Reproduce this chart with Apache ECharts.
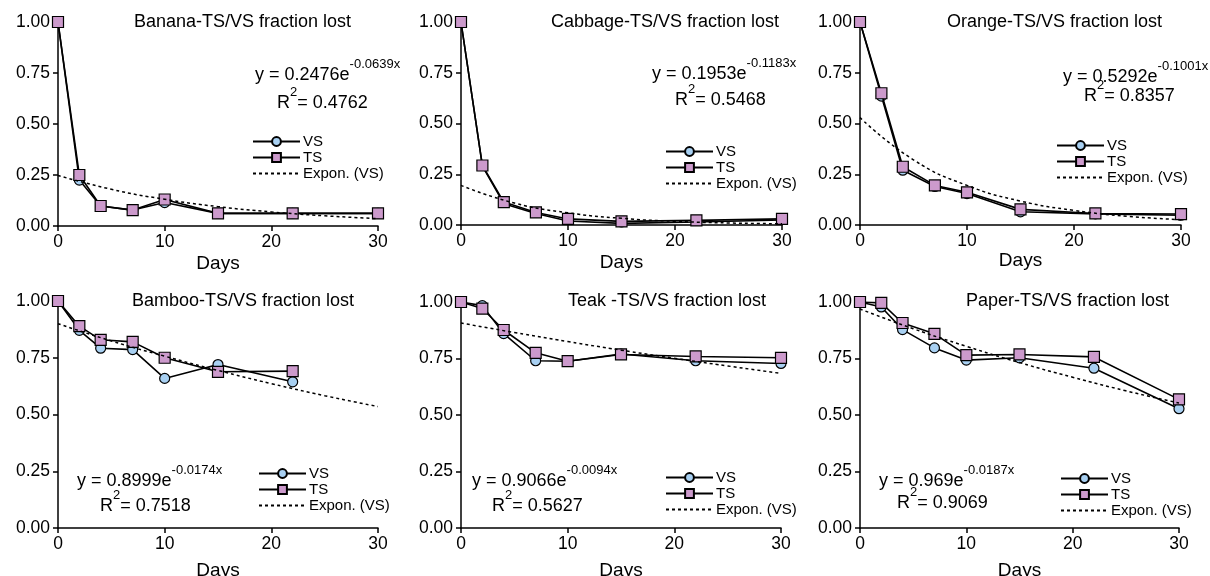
<!DOCTYPE html>
<html>
<head>
<meta charset="utf-8">
<script src="https://cdn.jsdelivr.net/npm/echarts@6/dist/echarts.min.js"></script>
<style>
  html, body { margin: 0; padding: 0; background: #fff; }
  #chart { width: 1210px; height: 576px; }
</style>
</head>
<body>
<div id="chart"></div>
<script>
// sampling days
const days = [0, 2, 4, 7, 10, 15, 22, 30];
const bambooDays = [0, 2, 4, 7, 10, 15, 22];
const trendDays = [0, 5, 10, 15, 20, 25, 30];
const yTicks = [0, 0.25, 0.5, 0.75, 1];

// fraction lost
const bananaVS = [1.0, 0.225, 0.098, 0.078, 0.115, 0.062, 0.062, 0.062];
const bananaTS = [1.0, 0.25, 0.098, 0.078, 0.13, 0.062, 0.062, 0.062];
const bananaTrend = [0.248, 0.18, 0.131, 0.095, 0.069, 0.05, 0.036];

const cabbageVS = [1.0, 0.29, 0.105, 0.057, 0.02, 0.008, 0.015, 0.025];
const cabbageTS = [1.0, 0.293, 0.113, 0.062, 0.03, 0.018, 0.023, 0.03];
const cabbageTrend = [0.195, 0.108, 0.06, 0.033, 0.018, 0.01, 0.006];

const orangeVS = [1.0, 0.635, 0.27, 0.19, 0.155, 0.065, 0.055, 0.048];
const orangeTS = [1.0, 0.649, 0.287, 0.195, 0.161, 0.077, 0.057, 0.054];
const orangeTrend = [0.529, 0.321, 0.195, 0.118, 0.072, 0.043, 0.026];

const bambooVS = [1.0, 0.871, 0.792, 0.786, 0.659, 0.72, 0.644];
const bambooTS = [1.0, 0.889, 0.829, 0.82, 0.75, 0.688, 0.691];
const bambooTrend = [0.9, 0.824, 0.757, 0.694, 0.636, 0.583, 0.535];

const teakVS = [1.0, 0.984, 0.86, 0.74, 0.738, 0.77, 0.74, 0.728];
const teakTS = [1.0, 0.971, 0.876, 0.775, 0.738, 0.768, 0.759, 0.753];
const teakTrend = [0.907, 0.865, 0.825, 0.787, 0.751, 0.717, 0.684];

const paperVS = [1.0, 0.978, 0.878, 0.797, 0.743, 0.753, 0.707, 0.528];
const paperTS = [1.0, 0.996, 0.907, 0.859, 0.765, 0.768, 0.757, 0.569];
const paperTrend = [0.969, 0.882, 0.804, 0.732, 0.667, 0.607, 0.553];

const titles = [
  'Banana-TS/VS fraction lost',
  'Cabbage-TS/VS fraction lost',
  'Orange-TS/VS fraction lost',
  'Bamboo-TS/VS fraction lost',
  'Teak -TS/VS fraction lost',
  'Paper-TS/VS fraction lost',
];
const eqBase = ['y = 0.2476e', 'y = 0.1953e', 'y = 0.5292e', 'y = 0.8999e', 'y = 0.9066e', 'y = 0.969e'];
const eqExp = ['-0.0639x', '-0.1183x', '-0.1001x', '-0.0174x', '-0.0094x', '-0.0187x'];
const r2Values = ['0.4762', '0.5468', '0.8357', '0.7518', '0.5627', '0.9069'];

const panels = [
  { x: days, vs: bananaVS, ts: bananaTS, trend: bananaTrend, vsSize: 10 },
  { x: days, vs: cabbageVS, ts: cabbageTS, trend: cabbageTrend, vsSize: 7 },
  { x: days, vs: orangeVS, ts: orangeTS, trend: orangeTrend, vsSize: 10 },
  { x: bambooDays, vs: bambooVS, ts: bambooTS, trend: bambooTrend, vsSize: 10 },
  { x: days, vs: teakVS, ts: teakTS, trend: teakTrend, vsSize: 10 },
  { x: days, vs: paperVS, ts: paperTS, trend: paperTrend, vsSize: 10 },
];

// layout of each small panel
const boxes = [
  { left: 58, top: 22, width: 320, height: 204, gap: 28, lg: [252, 134], eq: [255, 58], r2: [277, 86], tl: [134, 13] },
  { left: 461, top: 22, width: 321, height: 203, gap: 28, lg: [665, 144], eq: [652, 57], r2: [675, 83], tl: [551, 13] },
  { left: 860, top: 22, width: 321, height: 203, gap: 25, lg: [1056, 138], eq: [1063, 60], r2: [1084, 79], tl: [947, 13] },
  { left: 58, top: 301, width: 320, height: 227, gap: 33, lg: [258, 466], eq: [77, 464], r2: [100, 489], tl: [132, 292] },
  { left: 461, top: 302, width: 320, height: 226, gap: 33, lg: [665, 470], eq: [472, 464], r2: [492, 489], tl: [568, 292] },
  { left: 860, top: 302, width: 319, height: 226, gap: 33, lg: [1060, 471], eq: [879, 464], r2: [897, 486], tl: [966, 292] },
];

const FONT = 'Liberation Sans, Arial, sans-serif';
const VS_COLOR = '#a8d0f2';
const TS_COLOR = '#cc9acc';

const zip = (xs, ys) => ys.map((v, i) => [xs[i], v]);

const richEq = {
  m: { fontFamily: FONT, fontSize: 18, lineHeight: 26, fill: '#000', verticalAlign: 'bottom' },
  s: { fontFamily: FONT, fontSize: 13, lineHeight: 14, fill: '#000', verticalAlign: 'top' },
};

const option = {
  animation: false,
  backgroundColor: '#fff',
  title: [],
  legend: [],
  grid: [],
  xAxis: [],
  yAxis: [],
  series: [],
  graphic: [],
};

panels.forEach((p, i) => {
  const b = boxes[i];
  option.grid.push({
    left: b.left, top: b.top, width: b.width, height: b.height,
    containLabel: false, outerBoundsMode: 'none',
  });

  option.xAxis.push({
    type: 'value',
    gridIndex: i,
    min: 0,
    max: 30,
    interval: 10,
    name: 'Days',
    nameLocation: 'middle',
    nameGap: b.gap,
    nameTextStyle: { fontFamily: FONT, fontSize: 19, color: '#000' },
    axisLine: { onZero: false, lineStyle: { color: '#000', width: 1.5 } },
    axisTick: { show: true, inside: false, length: 5, lineStyle: { color: '#000', width: 1.5 } },
    axisLabel: { fontFamily: FONT, fontSize: 17.5, color: '#000', margin: 7 },
    splitLine: { show: false },
  });

  option.yAxis.push({
    type: 'value',
    gridIndex: i,
    min: yTicks[0],
    max: yTicks[yTicks.length - 1],
    interval: 0.25,
    axisLine: { show: true, lineStyle: { color: '#000', width: 1.5 } },
    axisTick: { show: true, inside: false, length: 5, lineStyle: { color: '#000', width: 1.5 } },
    axisLabel: {
      fontFamily: FONT, fontSize: 17.5, color: '#000', margin: 8,
      formatter: (v) => v.toFixed(2),
    },
    splitLine: { show: false },
  });

  option.series.push({
    name: 'VS',
    type: 'line',
    xAxisIndex: i,
    yAxisIndex: i,
    data: zip(p.x, p.vs),
    symbol: 'circle',
    symbolSize: p.vsSize,
    lineStyle: { color: '#000', width: 1.6 },
    itemStyle: { color: VS_COLOR, borderColor: '#000', borderWidth: 1.2 },
    z: 3,
  });
  option.series.push({
    name: 'TS',
    type: 'line',
    xAxisIndex: i,
    yAxisIndex: i,
    data: zip(p.x, p.ts),
    symbol: 'rect',
    symbolSize: 11,
    lineStyle: { color: '#000', width: 1.6 },
    itemStyle: { color: TS_COLOR, borderColor: '#000', borderWidth: 1.2 },
    z: 4,
  });
  option.series.push({
    name: 'Expon. (VS)',
    type: 'line',
    xAxisIndex: i,
    yAxisIndex: i,
    data: zip(trendDays, p.trend),
    smooth: true,
    symbol: 'none',
    lineStyle: { color: '#000', width: 1.5, type: [3, 3] },
    itemStyle: { color: '#000' },
    z: 5,
  });

  option.title.push({
    text: titles[i],
    left: b.tl[0],
    top: b.tl[1],
    padding: 0,
    textStyle: { fontFamily: FONT, fontSize: 18, fontWeight: 'normal', color: '#000' },
  });

  option.legend.push({
    data: [
      { name: 'VS' },
      { name: 'TS' },
      { name: 'Expon. (VS)', itemStyle: { opacity: 0 } },
    ],
    orient: 'vertical',
    left: b.lg[0],
    top: b.lg[1],
    padding: 0,
    itemWidth: 47,
    itemHeight: 11,
    itemGap: 1,
    selectedMode: false,
    textStyle: { fontFamily: FONT, fontSize: 15, color: '#000', padding: [0, 0, 0, -2] },
  });

  option.graphic.push({
    type: 'text',
    left: b.eq[0],
    top: b.eq[1],
    style: { text: '{m|' + eqBase[i] + '}{s|' + eqExp[i] + '}', rich: richEq },
  });
  option.graphic.push({
    type: 'text',
    left: b.r2[0],
    top: b.r2[1],
    style: { text: '{m|R}{s|2}{m|= ' + r2Values[i] + '}', rich: richEq },
  });
});

const chart = echarts.init(document.getElementById('chart'));
chart.setOption(option);
</script>
</body>
</html>
